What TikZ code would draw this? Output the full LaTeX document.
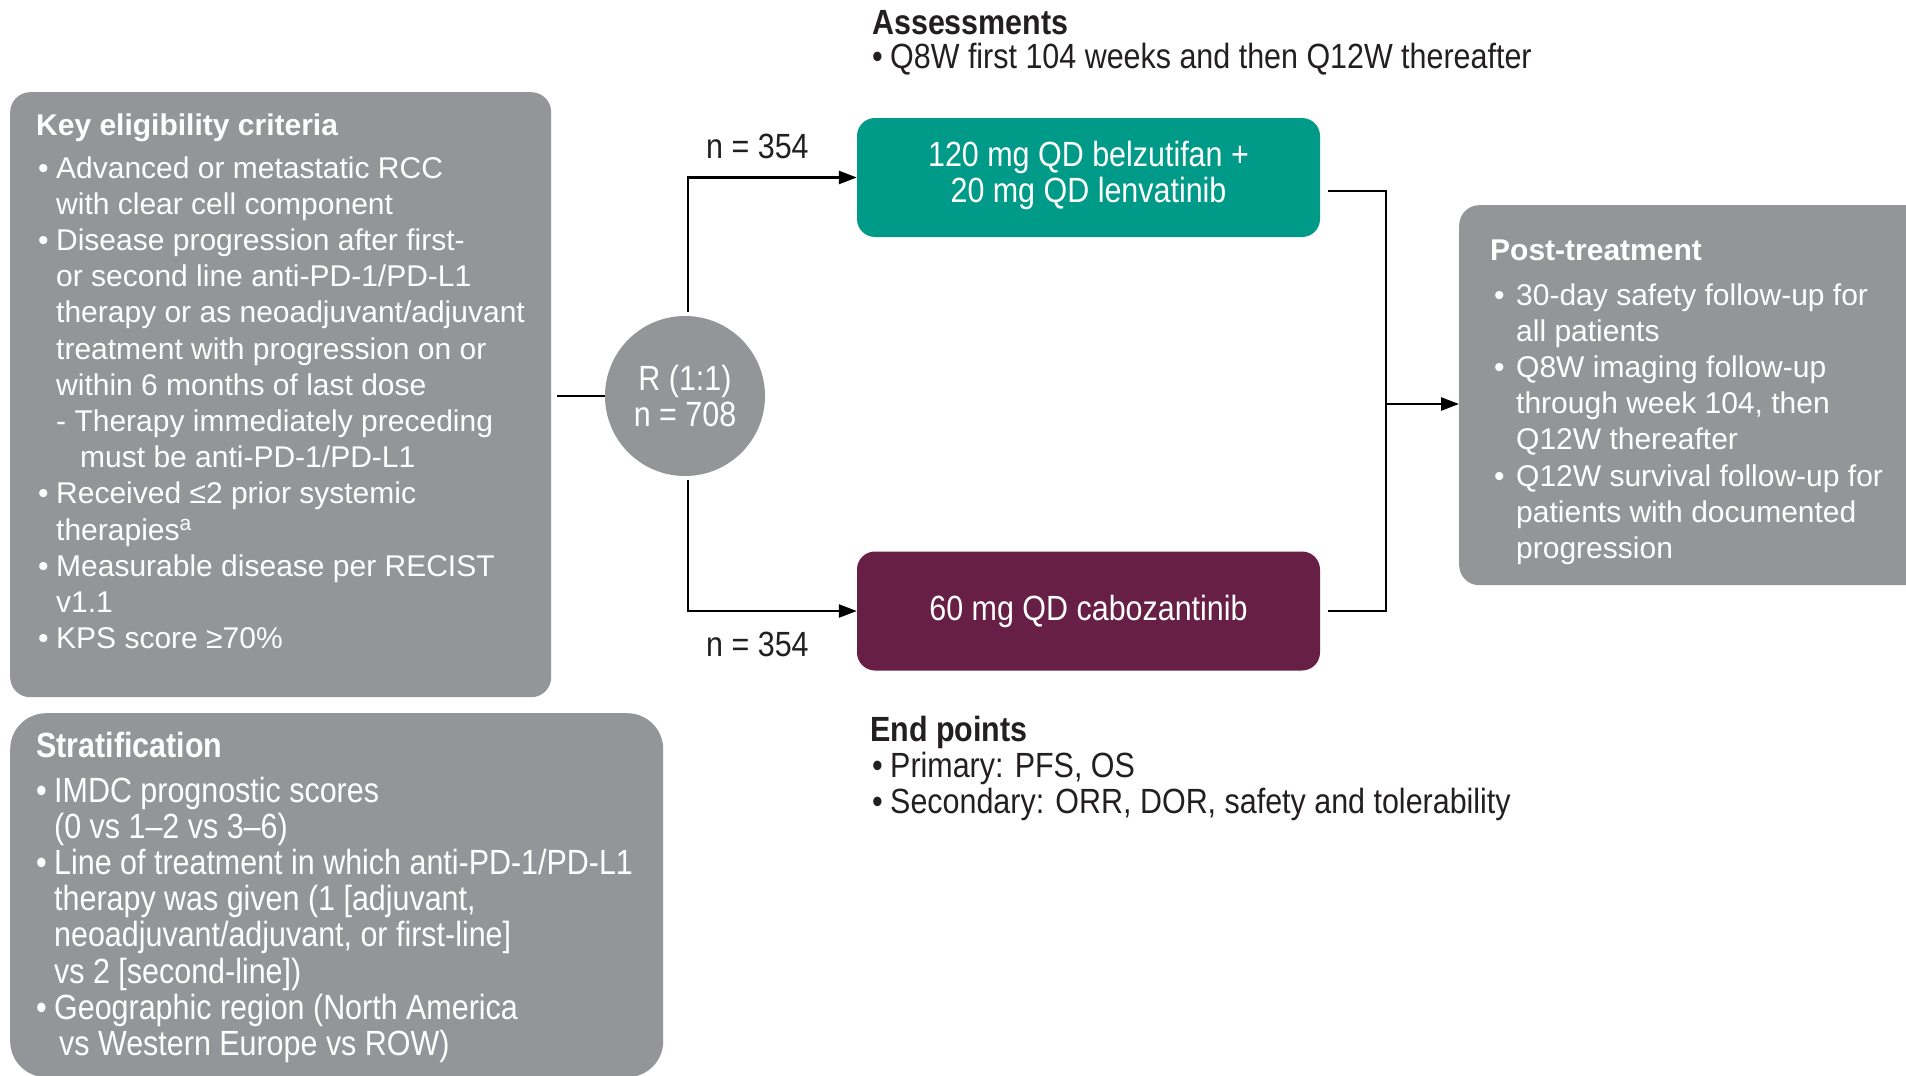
\documentclass[tikz,border=0pt]{standalone}
\usepackage{fontspec}
\setmainfont{Liberation Sans}
\newfontfamily\condf[FakeStretch=0.87]{Liberation Sans}
\usetikzlibrary{arrows.meta}
\definecolor{boxgrey}{RGB}{147,149,152}
\definecolor{armgreen}{RGB}{0,155,136}
\definecolor{armpurple}{RGB}{104,31,69}
\definecolor{inkc}{RGB}{35,31,32}
\newcommand\regsz{\fontsize{30}{36.2}\selectfont}
\newcommand\consz{\condf\fontsize{35}{36.2}\selectfont}
\newcommand\bul{\makebox[18pt][l]{•}}
\newcommand\bulw{\makebox[22pt][l]{•}}
\newcommand\ind{\hspace*{18pt}}
\newcommand\indw{\hspace*{22pt}}
\tikzset{
  greybox/.style={fill=boxgrey, draw=none, anchor=north west, inner sep=0pt},
  armbox/.style={draw=none, rounded corners=18pt, minimum width=463pt, minimum height=119pt,
    inner sep=0pt, text=white, align=center, font=\consz},
  title/.style={inner sep=0pt, anchor=base west, font=\regsz\bfseries, text=white},
  ctitle/.style={inner sep=0pt, anchor=base west, font=\consz\bfseries, text=inkc},
  body/.style={inner sep=0pt, anchor=base west},
  conn/.style={line width=2.5pt, draw=black},
  arr/.style={conn, -{Triangle[length=18pt,width=13pt]}},
}
\begin{document}
\begin{tikzpicture}[x=1pt,y=-1pt]
\useasboundingbox (0,0) rectangle (1906,1076);
\fill[white] (0,0) rectangle (1906,1076);

% grey boxes
\node[greybox, rounded corners=20pt, minimum width=541pt, minimum height=605pt] (elig) at (10,92) {};
\node[greybox, rounded corners=36pt, minimum width=653pt, minimum height=364pt] (strat) at (10,713) {};
\node[greybox, rounded corners=20pt, minimum width=470pt, minimum height=380pt] (post) at (1459,205) {};

% randomisation circle
\node[circle, fill=boxgrey, minimum size=160pt, inner sep=0pt, text=white, align=center, font=\consz] (R) at (685,396) {R (1:1)\\n = 708};

% arms
\node[armbox, fill=armgreen] (green) at (1088.5,177.5) {\raisebox{3pt}{\begin{tabular}{@{}c@{}}120 mg QD belzutifan +\\20 mg QD lenvatinib\end{tabular}}};
\node[armbox, fill=armpurple] (purple) at (1088.5,611) {60 mg QD cabozantinib};

% connectors
\draw[conn] ([xshift=6pt]elig.east |- R.west) -- (R.west);
\draw[arr] ([xshift=3pt,yshift=4pt]R.north) |- (green.west);
\draw[arr] ([xshift=3pt,yshift=-4pt]R.south) |- (purple.west);
\coordinate (jt) at (1386,191);
\coordinate (jb) at (1386,611);
\coordinate (jm) at (1386,404);
\draw[conn] ([xshift=8pt]green.east |- jt) -- (jt) -- (jb) -- ([xshift=8pt]purple.east |- jb);
\draw[arr] (jm) -- (post.west |- jm);

% n labels
\node[body, font=\consz, text=inkc] (nup) at (706,158) {n = 354};
\node[body, font=\consz, text=inkc] (ndown) at (706,656) {n = 354};

% eligibility text
\node[title] (eligt) at (36,135) {Key eligibility criteria};
\node[body, text=white] (eligb) at (38,178) {\parbox[t]{520pt}{\regsz\raggedright
\bul Advanced or metastatic RCC\\
\ind with clear cell component\\
\bul Disease progression after first-\\
\ind or second line anti-PD-1/PD-L1\\
\ind therapy or as neoadjuvant/adjuvant\\
\ind treatment with progression on or\\
\ind within 6 months of last dose\\
\ind - Therapy immediately preceding\\
\ind\hspace*{24pt}must be anti-PD-1/PD-L1\\
\bul Received ≤2 prior systemic\\
\ind therapies\textsuperscript{a}\\
\bul Measurable disease per RECIST\\
\ind v1.1\\
\bul KPS score ≥70\%}};

% stratification text
\node[title, font=\consz\bfseries] (stratt) at (36,757) {Stratification};
\node[body, text=white] (stratb) at (36,802) {\parbox[t]{620pt}{\consz\raggedright
\bul IMDC prognostic scores\\
\ind (0 vs 1–2 vs 3–6)\\
\bul Line of treatment in which anti-PD-1/PD-L1\\
\ind therapy was given (1 [adjuvant,\\
\ind neoadjuvant/adjuvant, or first-line]\\
\ind vs 2 [second-line])\\
\bul Geographic region (North America\\
\ind\hspace*{5pt}vs Western Europe vs ROW)}};

% post-treatment text
\node[title] (postt) at (1490,260) {Post-treatment};
\node[body, text=white] (postb) at (1494,305) {\parbox[t]{420pt}{\regsz\raggedright
\bulw 30-day safety follow-up for\\
\indw all patients\\
\bulw Q8W imaging follow-up\\
\indw through week 104, then\\
\indw Q12W thereafter\\
\bulw Q12W survival follow-up for\\
\indw patients with documented\\
\indw progression}};

% assessments
\node[ctitle] (asst) at (872,34) {Assessments};
\node[body, text=inkc] (assb) at (872,68) {\parbox[t]{700pt}{\consz\raggedright
\makebox[18pt][l]{•}Q8W first 104 weeks and then Q12W thereafter}};

% end points
\node[ctitle] (endt) at (870,741) {End points};
\node[body, text=inkc] (endb) at (872,777) {\parbox[t]{700pt}{\consz\raggedright
\makebox[18pt][l]{•}Primary: PFS, OS\\
\makebox[18pt][l]{•}Secondary: ORR, DOR, safety and tolerability}};
\end{tikzpicture}
\end{document}
